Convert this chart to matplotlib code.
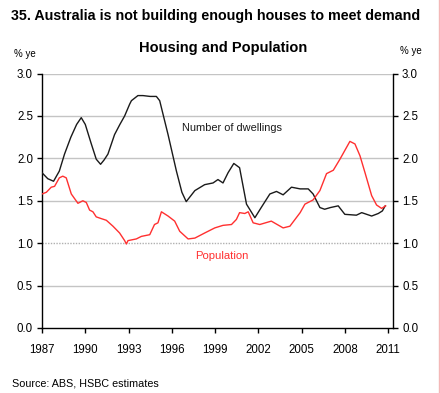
import numpy as np
import matplotlib.pyplot as plt
from matplotlib.lines import Line2D

plt.rcParams['font.family'] = ['Liberation Sans', 'DejaVu Sans']

# year-on-year growth, %
dw_years = [1987.0, 1987.4, 1987.8, 1988.2, 1988.56, 1989.0, 1989.4, 1989.72, 1990.0,
            1990.4, 1990.76, 1991.06, 1991.3, 1991.57, 1992.03, 1992.4, 1992.73, 1993.08,
            1993.2, 1993.65, 1994.0, 1994.5, 1994.93, 1995.16, 1995.74, 1996.32, 1996.7,
            1997.0, 1997.6, 1998.28, 1998.86, 1999.2, 1999.55, 1999.9, 2000.3, 2000.7,
            2001.18, 2001.76, 2002.2, 2002.8, 2003.26, 2003.72, 2004.3, 2004.9, 2005.46,
            2005.8, 2006.27, 2006.6, 2007.0, 2007.54, 2008.0, 2008.8, 2009.17, 2009.86,
            2010.32, 2010.6, 2010.8]
dwellings = [1.83, 1.76, 1.73, 1.85, 2.05, 2.25, 2.40, 2.48, 2.40,
             2.18, 1.99, 1.93, 1.98, 2.05, 2.28, 2.40, 2.50, 2.64,
             2.68, 2.74, 2.74, 2.73, 2.73, 2.68, 2.28, 1.85, 1.60,
             1.49, 1.62, 1.69, 1.71, 1.75, 1.71, 1.83, 1.94, 1.89,
             1.46, 1.30, 1.42, 1.58, 1.61, 1.57, 1.66, 1.64, 1.64,
             1.58, 1.42, 1.40, 1.42, 1.44, 1.34, 1.33, 1.36, 1.32,
             1.35, 1.38, 1.44]

pop_years = [1987.0, 1987.3, 1987.64, 1987.87, 1988.2, 1988.44, 1988.68, 1989.03, 1989.49,
             1989.83, 1990.07, 1990.3, 1990.53, 1990.76, 1991.1, 1991.46, 1991.92, 1992.38,
             1992.73, 1992.85, 1992.96, 1993.54, 1993.89, 1994.47, 1994.8, 1995.04, 1995.28,
             1995.74, 1996.2, 1996.55, 1997.13, 1997.6, 1998.28, 1998.98, 1999.55, 2000.14,
             2000.48, 2000.7, 2001.06, 2001.3, 2001.64, 2002.1, 2002.9, 2003.72, 2004.19,
             2004.5, 2004.9, 2005.23, 2005.8, 2006.27, 2006.73, 2007.2, 2007.66, 2008.12,
             2008.35, 2008.7, 2009.05, 2009.4, 2009.86, 2010.2, 2010.55, 2010.83]
population = [1.58, 1.60, 1.66, 1.67, 1.77, 1.79, 1.77, 1.58, 1.47,
              1.50, 1.48, 1.39, 1.37, 1.31, 1.29, 1.27, 1.20, 1.12,
              1.03, 0.99, 1.03, 1.05, 1.08, 1.10, 1.22, 1.24, 1.37,
              1.32, 1.26, 1.14, 1.05, 1.06, 1.12, 1.18, 1.21, 1.22,
              1.28, 1.36, 1.35, 1.37, 1.24, 1.22, 1.26, 1.18, 1.20,
              1.27, 1.36, 1.46, 1.51, 1.62, 1.82, 1.86, 1.99, 2.13,
              2.20, 2.17, 2.03, 1.83, 1.56, 1.45, 1.41, 1.44]

year_ticks = [1987, 1990, 1993, 1996, 1999, 2002, 2005, 2008, 2011]
y_ticks = [0.0, 0.5, 1.0, 1.5, 2.0, 2.5, 3.0]

fig = plt.figure(figsize=(4.4, 3.93), dpi=100)
ax = fig.add_axes([0.0955, 0.1654, 0.7977, 0.6475])

for v in y_ticks[1:]:
    if v == 1.0:
        ax.axhline(v, color='#b0b0b0', lw=1.0, ls=(0, (1, 1)), zorder=1)
    else:
        ax.axhline(v, color='#c4c4c4', lw=1.0, zorder=1)

ax.plot(dw_years, dwellings, color='#1a1a1a', lw=1.0, zorder=3)
ax.plot(pop_years, population, color='#ff3030', lw=1.0, zorder=3)

ax.set_xlim(1987.0, 2011.34)
ax.set_ylim(0, 3.0)
ax.set_xticks(year_ticks)
ax.set_yticks(y_ticks)
ax.set_yticklabels([f'{v:.1f}' for v in y_ticks])
ax.tick_params(axis='both', labelsize=8.3, length=3.5, width=1, color='black',
               direction='out')
ax.tick_params(axis='x', pad=8)
ax.tick_params(axis='y', pad=3, left=True, right=True, labelleft=True, labelright=True)
ax.spines['top'].set_visible(False)
for s in ['left', 'right', 'bottom']:
    ax.spines[s].set_linewidth(1.0)
    ax.spines[s].set_color('black')

ax.text(2000.2, 2.36, 'Number of dwellings', fontsize=7.9, color='#1a1a1a', ha='center', va='center')
ax.text(1999.5, 0.845, 'Population', fontsize=8.1, color='#ff3030', ha='center', va='center')

fig.text(11 / 440, 1 - 16 / 393, '35. Australia is not building enough houses to meet demand',
         fontsize=10.25, fontweight='bold', ha='left', va='center')
fig.text(223 / 440, 1 - 48 / 393, 'Housing and Population',
         fontsize=10.5, fontweight='bold', ha='center', va='center')
fig.text(14 / 440, 1 - 54 / 393, '% ye', fontsize=7, ha='left', va='center')
fig.text(400 / 440, 1 - 51 / 393, '% ye', fontsize=7, ha='left', va='center')
fig.text(12 / 440, 1 - 384 / 393, 'Source: ABS, HSBC estimates', fontsize=7.75, ha='left', va='center')

fig.add_artist(Line2D([438.5 / 440, 438.5 / 440], [0, 1], transform=fig.transFigure,
                      color='#f4b8b8', lw=1))

fig.savefig('out.png', dpi=100)
